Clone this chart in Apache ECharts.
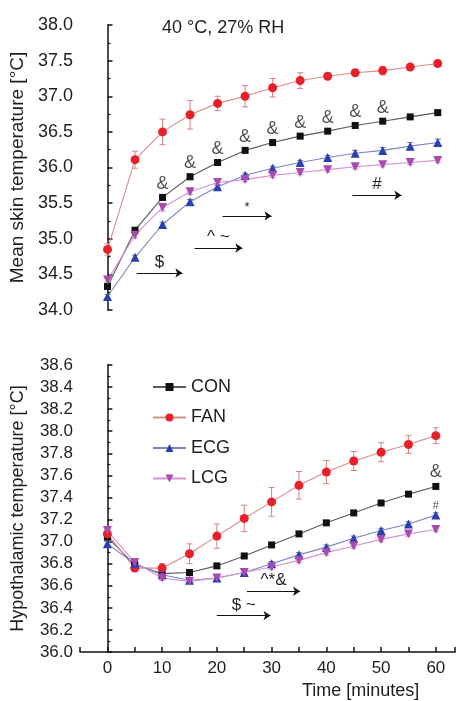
<!DOCTYPE html>
<html>
<head>
<meta charset="utf-8">
<script src="https://cdn.jsdelivr.net/npm/echarts@6/dist/echarts.min.js"></script>
<style>
  html, body { margin: 0; padding: 0; background: #fff; }
  #main { width: 458px; height: 701px; }
</style>
</head>
<body>
<div id="main"></div>
<script>
// time points (minutes)
const times = [0, 5, 10, 15, 20, 25, 30, 35, 40, 45, 50, 55, 60];

// mean skin temperature
const skinCON = [34.33, 35.12, 35.58, 35.87, 36.07, 36.24, 36.35, 36.44, 36.51, 36.59, 36.65, 36.71, 36.77];
const skinFAN = [34.85, 36.11, 36.50, 36.74, 36.90, 37.00, 37.12, 37.22, 37.28, 37.33, 37.36, 37.41, 37.46];
const skinECG = [34.19, 34.74, 35.20, 35.52, 35.73, 35.89, 35.99, 36.07, 36.14, 36.20, 36.24, 36.30, 36.35];
const skinLCG = [34.42, 35.05, 35.44, 35.66, 35.79, 35.83, 35.89, 35.93, 35.97, 36.01, 36.04, 36.07, 36.10];
const skinErrCON = [0.04, 0.03, 0.04, 0.04, 0.02, 0.02, 0.02, 0.02, 0.02, 0.02, 0.02, 0.02, 0.02];
const skinErrFAN = [0.08, 0.12, 0.18, 0.20, 0.10, 0.15, 0.13, 0.11, 0.03, 0.04, 0.06, 0.03, 0.02];
const skinErrECG = [0.03, 0.03, 0.03, 0.03, 0.03, 0.03, 0.03, 0.03, 0.03, 0.04, 0.04, 0.05, 0.05];
const skinErrLCG = [0.03, 0.04, 0.05, 0.04, 0.04, 0.03, 0.03, 0.03, 0.03, 0.03, 0.03, 0.03, 0.03];

// hypothalamic temperature
const hypoCON = [37.04, 36.79, 36.71, 36.72, 36.78, 36.87, 36.97, 37.07, 37.17, 37.26, 37.35, 37.43, 37.50];
const hypoFAN = [37.07, 36.76, 36.76, 36.89, 37.05, 37.21, 37.36, 37.51, 37.63, 37.73, 37.81, 37.88, 37.96];
const hypoECG = [36.98, 36.80, 36.70, 36.65, 36.67, 36.72, 36.80, 36.88, 36.95, 37.03, 37.10, 37.16, 37.24];
const hypoLCG = [37.10, 36.81, 36.67, 36.64, 36.67, 36.72, 36.77, 36.83, 36.90, 36.96, 37.02, 37.07, 37.11];
const hypoErrFAN = [0.03, 0.02, 0.04, 0.09, 0.11, 0.12, 0.13, 0.125, 0.105, 0.086, 0.086, 0.08, 0.072];
const hypoErrOther = [0.02, 0.02, 0.02, 0.02, 0.02, 0.02, 0.02, 0.02, 0.02, 0.02, 0.02, 0.02, 0.02];

const groupNames = ['CON', 'FAN', 'ECG', 'LCG'];
const markerColors = ['#111111', '#e8202a', '#2c3fae', '#a94aae'];
const lineColors = ['#5a5a5a', '#d98c8c', '#7c84c6', '#d392d3'];
const errColors = ['#555555', '#d98080', '#6c76c0', '#c888c8'];

// significance marks
const skinAmpTimes = [10, 15, 20, 25, 30, 35, 40, 45, 50];
const hypoAmpTimes = [60];
const hypoHashTimes = [60];
// [text, from, to, level]
const skinArrows = [['$', 5.3, 13.6, 34.52], ['^ ~', 15.8, 24.5, 34.87], ['*', 20.9, 29.8, 35.32], ['#', 44.5, 53.4, 35.61]];
const hypoArrows = [['^*&', 25.5, 35.2, 36.55], ['$ ~', 20, 29.8, 36.33]];

const FONT = 'Liberation Sans, Arial, sans-serif';
const TXT = '#1e1e1e';

function pairs(vals) {
    return times.map((t, i) => [t, vals[i]]);
}

function symbolFor(i) {
    if (i === 0) return { symbol: 'rect', symbolSize: 7 };
    if (i === 1) return { symbol: 'circle', symbolSize: 9 };
    if (i === 2) return { symbol: 'triangle', symbolSize: 9 };
    return { symbol: 'triangle', symbolSize: 9, symbolRotate: 180 };
}

function lineSeries(i, vals, gi) {
    const s = symbolFor(i);
    return Object.assign({
        name: groupNames[i],
        type: 'line',
        xAxisIndex: gi,
        yAxisIndex: gi,
        data: pairs(vals),
        showAllSymbol: true,
        lineStyle: { color: lineColors[i], width: 1.1 },
        itemStyle: { color: markerColors[i] },
        z: 5
    }, s);
}

function errSeries(i, vals, errs, gi) {
    return {
        type: 'custom',
        xAxisIndex: gi,
        yAxisIndex: gi,
        silent: true,
        z: 3,
        data: times.map((t, k) => [t, vals[k], errs[k]]),
        renderItem: function (params, api) {
            const x = api.value(0), y = api.value(1), e = api.value(2);
            const hi = api.coord([x, y + e]);
            const lo = api.coord([x, y - e]);
            const w = 3;
            const st = { stroke: errColors[i], lineWidth: 1 };
            return {
                type: 'group',
                children: [
                    { type: 'line', shape: { x1: hi[0], y1: hi[1], x2: lo[0], y2: lo[1] }, style: st },
                    { type: 'line', shape: { x1: hi[0] - w, y1: hi[1], x2: hi[0] + w, y2: hi[1] }, style: st },
                    { type: 'line', shape: { x1: lo[0] - w, y1: lo[1], x2: lo[0] + w, y2: lo[1] }, style: st }
                ]
            };
        }
    };
}

function signSeries(text, tList, vals, gi, size, dist) {
    return {
        type: 'scatter',
        xAxisIndex: gi,
        yAxisIndex: gi,
        silent: true,
        symbolSize: 1,
        itemStyle: { color: 'rgba(0,0,0,0)' },
        data: tList.map(t => [t, vals[times.indexOf(t)]]),
        label: {
            show: true,
            position: 'top',
            distance: dist,
            formatter: text,
            color: TXT,
            fontFamily: FONT,
            fontSize: size
        },
        z: 6
    };
}

function arrowSeries(arrows, gi) {
    return {
        type: 'line',
        xAxisIndex: gi,
        yAxisIndex: gi,
        data: [],
        silent: true,
        markLine: {
            silent: true,
            symbol: ['none', 'arrow'],
            symbolSize: 7,
            lineStyle: { color: '#111', width: 1.2, type: 'solid' },
            label: {
                show: true,
                position: 'insideMiddleTop',
                distance: 2,
                color: TXT,
                fontFamily: FONT,
                fontSize: 16
            },
            data: arrows.map(a => [
                { coord: [a[1], a[3]], label: { formatter: a[0], fontSize: a[0] === '*' ? 13 : 17 } },
                { coord: [a[2], a[3]] }
            ])
        }
    };
}

const skinVals = [skinCON, skinFAN, skinECG, skinLCG];
const skinErrs = [skinErrCON, skinErrFAN, skinErrECG, skinErrLCG];
const hypoVals = [hypoCON, hypoFAN, hypoECG, hypoLCG];
const hypoErrs = [hypoErrOther, hypoErrFAN, hypoErrOther, hypoErrOther];

const series = [];
for (let i = 0; i < 4; i++) series.push(errSeries(i, skinVals[i], skinErrs[i], 0));
for (let i = 0; i < 4; i++) series.push(errSeries(i, hypoVals[i], hypoErrs[i], 1));
for (let i = 0; i < 4; i++) series.push(lineSeries(i, skinVals[i], 0));
for (let i = 0; i < 4; i++) series.push(lineSeries(i, hypoVals[i], 1));
series.push(signSeries('&', skinAmpTimes, skinCON, 0, 18, 4));
series.push(signSeries('&', hypoAmpTimes, hypoCON, 1, 18, 5));
series.push(signSeries('#', hypoHashTimes, hypoECG, 1, 11, 3));
series.push(arrowSeries(skinArrows, 0));
series.push(arrowSeries(hypoArrows, 1));

function xAxisCfg(gi, show) {
    return {
        type: 'value',
        gridIndex: gi,
        show: show,
        min: -5,
        max: 63.5,
        interval: 5,
        axisLine: { show: true, lineStyle: { color: '#111', width: 1.5 } },
        axisTick: { show: true, inside: true, length: 5, lineStyle: { color: '#111', width: 1.5 } },
        axisLabel: {
            color: TXT,
            fontFamily: FONT,
            fontSize: 17,
            margin: 8,
            formatter: v => (v >= 0 && v % 10 === 0) ? String(v) : ''
        },
        splitLine: { show: false }
    };
}

function yAxisCfg(gi, min, max, step, name, gap, fs, nfs) {
    return {
        type: 'value',
        gridIndex: gi,
        min: min,
        max: max,
        interval: step,
        name: name,
        nameLocation: 'middle',
        nameGap: gap,
        nameTextStyle: { color: TXT, fontFamily: FONT, fontSize: nfs },
        axisLine: { show: true, lineStyle: { color: '#111', width: 1.5 } },
        axisTick: { show: true, inside: true, length: 5, lineStyle: { color: '#111', width: 1.5 } },
        minorTick: { show: true, splitNumber: 2, length: 3, lineStyle: { color: '#111', width: 1.2 } },
        axisLabel: {
            color: TXT,
            fontFamily: FONT,
            fontSize: fs,
            margin: 7,
            formatter: v => v.toFixed(1)
        },
        splitLine: { show: false }
    };
}

const chart = echarts.init(document.getElementById('main'), null, { renderer: 'canvas' });
chart.setOption({
    animation: false,
    backgroundColor: '#fff',
    title: [
        { text: '40 °C, 27% RH', left: 157, top: 14, textStyle: { color: TXT, fontFamily: FONT, fontSize: 18, fontWeight: 'normal' } },
        { text: 'Time [minutes]', left: 297, top: 677, textStyle: { color: TXT, fontFamily: FONT, fontSize: 18, fontWeight: 'normal' } }
    ],
    legend: {
        orient: 'vertical',
        left: 147,
        top: 373,
        itemWidth: 33,
        itemHeight: 10,
        itemGap: 12.5,
        data: groupNames,
        textStyle: { color: TXT, fontFamily: FONT, fontSize: 18 },
        selectedMode: false
    },
    grid: [
        { left: 80, top: 25, width: 377, height: 285 },
        { left: 80, top: 365, width: 377, height: 287 }
    ],
    xAxis: [xAxisCfg(0, false), xAxisCfg(1, true)],
    yAxis: [
        yAxisCfg(0, 34, 38, 0.5, 'Mean skin temperature [°C]', 53, 18, 19),
        yAxisCfg(1, 36, 38.6, 0.2, 'Hypothalamic temperature [°C]', 53, 17, 18)
    ],
    series: series
});
</script>
</body>
</html>
